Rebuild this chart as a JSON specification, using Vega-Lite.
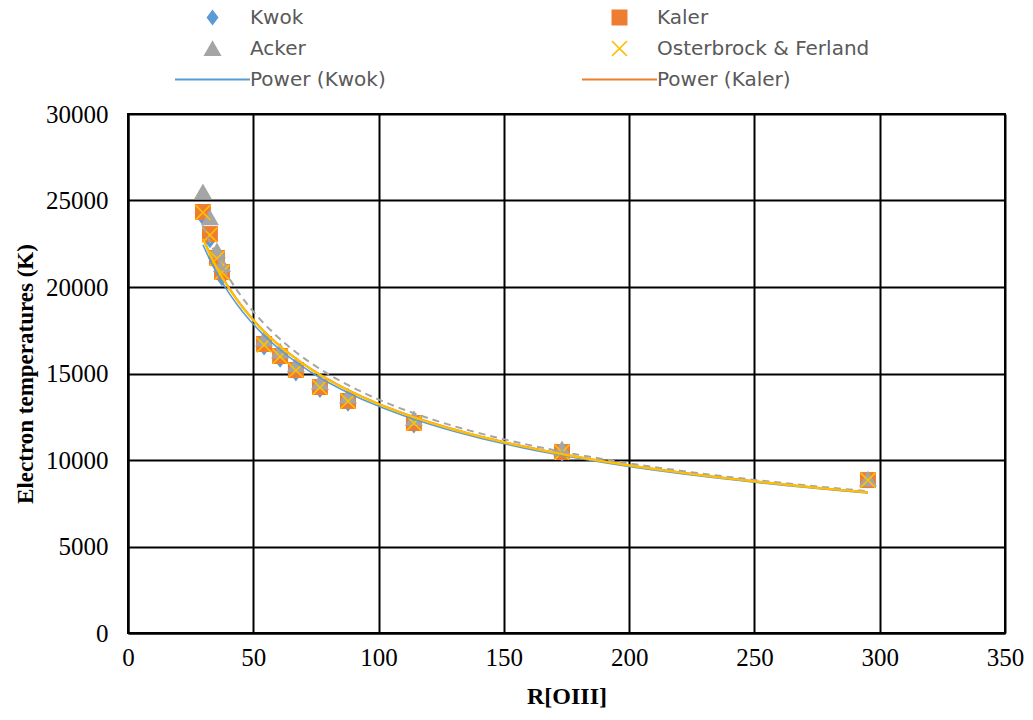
{
  "$schema": "https://vega.github.io/schema/vega-lite/v6.json",
  "width": 877,
  "height": 519,
  "autosize": {"type": "none"},
  "padding": {"left": 128, "top": 114, "right": 28, "bottom": 87},
  "background": "white",
  "config": {
    "view": {"stroke": "black", "strokeWidth": 2},
    "axis": {"labelColor": "black", "titleColor": "black"}
  },
  "data": {
    "values": [
      {"series": "Kwok", "R": 29.9, "T": 24000},
      {"series": "Kwok", "R": 32.7, "T": 22700},
      {"series": "Kwok", "R": 35.5, "T": 21300},
      {"series": "Kwok", "R": 37.5, "T": 20500},
      {"series": "Kwok", "R": 54.3, "T": 16500},
      {"series": "Kwok", "R": 60.7, "T": 15800},
      {"series": "Kwok", "R": 67.0, "T": 15000},
      {"series": "Kwok", "R": 76.6, "T": 14050},
      {"series": "Kwok", "R": 87.8, "T": 13250},
      {"series": "Kwok", "R": 114.1, "T": 12000},
      {"series": "Kwok", "R": 173.2, "T": 10350},
      {"series": "Kwok", "R": 295.3, "T": 8820},
      {"series": "Kaler", "R": 29.9, "T": 24335},
      {"series": "Kaler", "R": 32.7, "T": 23060},
      {"series": "Kaler", "R": 35.5, "T": 21680},
      {"series": "Kaler", "R": 37.5, "T": 20870},
      {"series": "Kaler", "R": 54.3, "T": 16705},
      {"series": "Kaler", "R": 60.7, "T": 16010},
      {"series": "Kaler", "R": 67.0, "T": 15200},
      {"series": "Kaler", "R": 76.6, "T": 14220},
      {"series": "Kaler", "R": 87.8, "T": 13410},
      {"series": "Kaler", "R": 114.1, "T": 12140},
      {"series": "Kaler", "R": 173.2, "T": 10460},
      {"series": "Kaler", "R": 295.3, "T": 8840},
      {"series": "Acker", "R": 29.9, "T": 25500},
      {"series": "Acker", "R": 32.7, "T": 24000},
      {"series": "Acker", "R": 35.5, "T": 22100},
      {"series": "Acker", "R": 37.5, "T": 21300},
      {"series": "Acker", "R": 54.3, "T": 17000},
      {"series": "Acker", "R": 60.7, "T": 16300},
      {"series": "Acker", "R": 67.0, "T": 15500},
      {"series": "Acker", "R": 76.6, "T": 14500},
      {"series": "Acker", "R": 87.8, "T": 13700},
      {"series": "Acker", "R": 114.1, "T": 12400},
      {"series": "Acker", "R": 173.2, "T": 10650},
      {"series": "Acker", "R": 295.3, "T": 8900},
      {"series": "Osterbrock & Ferland", "R": 29.9, "T": 24300},
      {"series": "Osterbrock & Ferland", "R": 32.7, "T": 23000},
      {"series": "Osterbrock & Ferland", "R": 35.5, "T": 21650},
      {"series": "Osterbrock & Ferland", "R": 37.5, "T": 20850},
      {"series": "Osterbrock & Ferland", "R": 54.3, "T": 16650},
      {"series": "Osterbrock & Ferland", "R": 60.7, "T": 15980},
      {"series": "Osterbrock & Ferland", "R": 67.0, "T": 15180},
      {"series": "Osterbrock & Ferland", "R": 76.6, "T": 14200},
      {"series": "Osterbrock & Ferland", "R": 87.8, "T": 13400},
      {"series": "Osterbrock & Ferland", "R": 114.1, "T": 12130},
      {"series": "Osterbrock & Ferland", "R": 173.2, "T": 10450},
      {"series": "Osterbrock & Ferland", "R": 295.3, "T": 8830}
    ]
  },
  "layer": [
    {
      "mark": {"type": "point", "filled": true, "opacity": 1, "size": 5625, "strokeWidth": 0},
      "encoding": {
        "x": {
          "field": "R", "type": "quantitative",
          "scale": {"domain": [0, 350], "nice": false, "zero": false},
          "axis": {
            "values": [0, 50, 100, 150, 200, 250, 300, 350],
            "grid": true, "gridColor": "black", "gridWidth": 2, "gridOpacity": 1,
            "domainColor": "black", "domainWidth": 2, "ticks": false,
            "labelFont": "Liberation Serif", "labelFontSize": 25, "labelPadding": 12,
            "labelFlush": false,
            "title": "R[OIII]", "titleFont": "Liberation Serif", "titleFontSize": 24,
            "titleFontWeight": "bold", "titlePadding": 14
          }
        },
        "y": {
          "field": "T", "type": "quantitative",
          "scale": {"domain": [0, 30000], "nice": false},
          "axis": {
            "values": [0, 5000, 10000, 15000, 20000, 25000, 30000],
            "format": "d",
            "grid": true, "gridColor": "black", "gridWidth": 2, "gridOpacity": 1,
            "domainColor": "black", "domainWidth": 2, "ticks": false,
            "labelFont": "Liberation Serif", "labelFontSize": 25, "labelPadding": 20,
            "labelFlush": false,
            "title": "Electron temperatures (K)", "titleFont": "Liberation Serif",
            "titleFontSize": 23, "titleFontWeight": "bold", "titlePadding": 8
          }
        },
        "color": {
          "field": "series", "type": "nominal",
          "scale": {
            "domain": ["Kwok", "Kaler", "Acker", "Osterbrock & Ferland", "Power (Kwok)", "Power (Kaler)"],
            "range": ["#5B9BD5", "#ED7D31", "#A5A5A5", "#FFC000", "#5B9BD5", "#ED7D31"]
          },
          "legend": {
            "title": null,
            "orient": "none",
            "direction": "horizontal",
            "legendX": 47,
            "legendY": -112,
            "columns": 2,
            "gridAlign": "all",
            "columnPadding": 119,
            "rowPadding": 0,
            "clipHeight": 31,
            "padding": 0,
            "symbolSize": 5625,
            "symbolStrokeWidth": 0,
            "labelOffset": 0,
            "labelFont": "DejaVu Sans",
            "labelFontSize": 20,
            "labelColor": "#595959",
            "labelLimit": 400
          }
        },
        "shape": {
          "field": "series", "type": "nominal",
          "scale": {
            "domain": ["Kwok", "Kaler", "Acker", "Osterbrock & Ferland", "Power (Kwok)", "Power (Kaler)"],
            "range": [
              "M0,-0.213L0.16,0L0,0.213L-0.16,0Z",
              "M-0.213,-0.213L0.213,-0.213L0.213,0.213L-0.213,0.213Z",
              "M0,-0.22L0.24,0.2L-0.24,0.2Z",
              "M-0.213,-0.183L-0.183,-0.213L0,-0.03L0.183,-0.213L0.213,-0.183L0.03,0L0.213,0.183L0.183,0.213L0,0.03L-0.183,0.213L-0.213,0.183L-0.03,0Z",
              "M-1,-0.027L1,-0.027L1,0.027L-1,0.027Z",
              "M-1,-0.027L1,-0.027L1,0.027L-1,0.027Z"
            ]
          }
        }
      }
    },
    {
      "transform": [{"filter": "datum.series === 'Kwok'"}, {"regression": "T", "on": "R", "method": "pow"}],
      "mark": {"type": "line", "color": "#5B9BD5", "strokeWidth": 1.6},
      "encoding": {"x": {"field": "R", "type": "quantitative"}, "y": {"field": "T", "type": "quantitative"}}
    },
    {
      "transform": [{"filter": "datum.series === 'Kaler'"}, {"regression": "T", "on": "R", "method": "pow"}],
      "mark": {"type": "line", "color": "#ED7D31", "strokeWidth": 2},
      "encoding": {"x": {"field": "R", "type": "quantitative"}, "y": {"field": "T", "type": "quantitative"}}
    },
    {
      "transform": [{"filter": "datum.series === 'Acker'"}, {"regression": "T", "on": "R", "method": "pow"}],
      "mark": {"type": "line", "color": "#A5A5A5", "strokeWidth": 2, "strokeDash": [7, 5]},
      "encoding": {"x": {"field": "R", "type": "quantitative"}, "y": {"field": "T", "type": "quantitative"}}
    },
    {
      "transform": [{"filter": "datum.series === 'Osterbrock & Ferland'"}, {"regression": "T", "on": "R", "method": "pow"}],
      "mark": {"type": "line", "color": "#FFC000", "strokeWidth": 2.2},
      "encoding": {"x": {"field": "R", "type": "quantitative"}, "y": {"field": "T", "type": "quantitative"}}
    }
  ]
}
